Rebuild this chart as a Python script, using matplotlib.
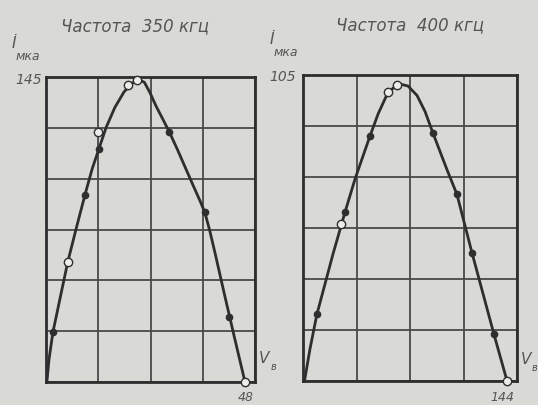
import numpy as np
import matplotlib.pyplot as plt

# ---- data ----
# left panel: 350 kHz, V in volts, I in microamps
v_max_350 = 48
i_max_350 = 145
curve_v_350 = [0.2, 0.7, 1.6, 3.2, 5.0, 6.9, 9.0, 10.6, 12.2, 13.8, 15.8, 17.9, 19.8,
               21.6, 22.6, 23.9, 25.2, 26.7, 28.3, 30.3, 32.3, 34.0, 35.4, 36.5,
               37.6, 38.8, 41.0, 43.3, 45.7]
curve_i_350 = [0, 10.9, 23.8, 39.5, 57.1, 72.7, 89.4, 101.3, 111.2, 121.0, 130.5, 137.9, 142.2,
               143.5, 142.5, 137.5, 131.5, 125.5, 119.0, 110.0, 100.5, 92.5, 86.0, 80.5,
               72.0, 61.5, 41.5, 21.0, 0]
open_v_350 = [5.0, 11.9, 18.9, 21.0, 45.7]
open_i_350 = [57.0, 119.0, 141.0, 143.5, 0]
dot_v_350 = [1.6, 9.0, 12.2, 28.3, 36.5, 42.0]
dot_i_350 = [24.0, 89.0, 111.0, 119.0, 81.0, 31.0]

# right panel: 400 kHz
v_max_400 = 144
i_max_400 = 105
curve_v_400 = [1.0, 4.7, 9.4, 14.8, 20.2, 25.6, 28.3, 35.0, 39.7, 45.1, 50.5, 55.8, 60.6,
               65.3, 70.7, 76.7, 82.1, 87.5, 92.0, 96.9, 103.6, 113.7, 128.5, 137.3]
curve_i_400 = [0, 11.0, 23.0, 33.3, 43.6, 53.2, 58.0, 69.3, 76.2, 84.1, 91.6, 97.5, 100.5,
               101.9, 101.2, 98.0, 92.5, 85.0, 79.0, 72.5, 64.0, 44.0, 16.0, 0]
open_v_400 = [25.6, 57.2, 63.3, 137.3]
open_i_400 = [54.0, 99.2, 101.6, 0]
dot_v_400 = [9.4, 28.3, 45.1, 87.5, 103.6, 113.7, 128.5]
dot_i_400 = [23.0, 58.0, 84.0, 85.0, 64.0, 44.0, 16.0]

paper = '#d9d9d6'
ink = '#2e2e2e'
txt = '#555555'

fig = plt.figure(figsize=(5.38, 4.06), dpi=100, facecolor=paper)


def panel(rect, vmax, imax, cv, ci, ov, oi, dv, di):
    ax = fig.add_axes(rect)
    ax.set_facecolor(paper)
    ax.set_xlim(0, vmax)
    ax.set_ylim(0, imax)
    ax.set_xticks(np.linspace(0, vmax, 5))
    ax.set_yticks(np.linspace(0, imax, 7))
    ax.tick_params(length=0, labelbottom=False, labelleft=False)
    ax.grid(True, color='#4a4a4a', lw=1.3)
    for s in ax.spines.values():
        s.set_color(ink)
        s.set_linewidth(2.0)
    ax.plot(cv, ci, color=ink, lw=2.0, zorder=3, clip_on=False, solid_joinstyle='round')
    ax.plot(dv, di, 'o', ms=4.5, color=ink, zorder=4, clip_on=False)
    ax.plot(ov, oi, 'o', ms=6, mfc='#ececea', mec=ink, mew=1.0, zorder=5, clip_on=False)
    return ax


ax1 = panel([0.0855, 0.0567, 0.3885, 0.751], v_max_350, i_max_350,
            curve_v_350, curve_i_350, open_v_350, open_i_350, dot_v_350, dot_i_350)
ax2 = panel([0.5632, 0.0591, 0.3978, 0.7537], v_max_400, i_max_400,
            curve_v_400, curve_i_400, open_v_400, open_i_400, dot_v_400, dot_i_400)


def put(x, y, s, size, ha='left'):
    fig.text(x/538, 1 - y/406, s, ha=ha, va='center', fontsize=size,
             color=txt, style='italic')


put(135, 26, 'Частота  350 кгц', 12, 'center')
put(410, 25, 'Частота  400 кгц', 12, 'center')

# y labels
put(12, 43, 'İ', 11)
put(16, 57, 'мка', 9)
put(42, 80, '145', 10, 'right')
put(270, 40, 'İ', 11)
put(274, 52, 'мка', 9)
put(296, 77, '105', 10, 'right')

# x labels
put(259, 359, 'V', 11)
put(271, 367, 'в', 7)
put(246, 398, '48', 9, 'center')
put(521, 360, 'V', 11)
put(532, 368, 'в', 7)
put(502, 398, '144', 9, 'center')

plt.savefig('out.png', dpi=100, facecolor=paper)
